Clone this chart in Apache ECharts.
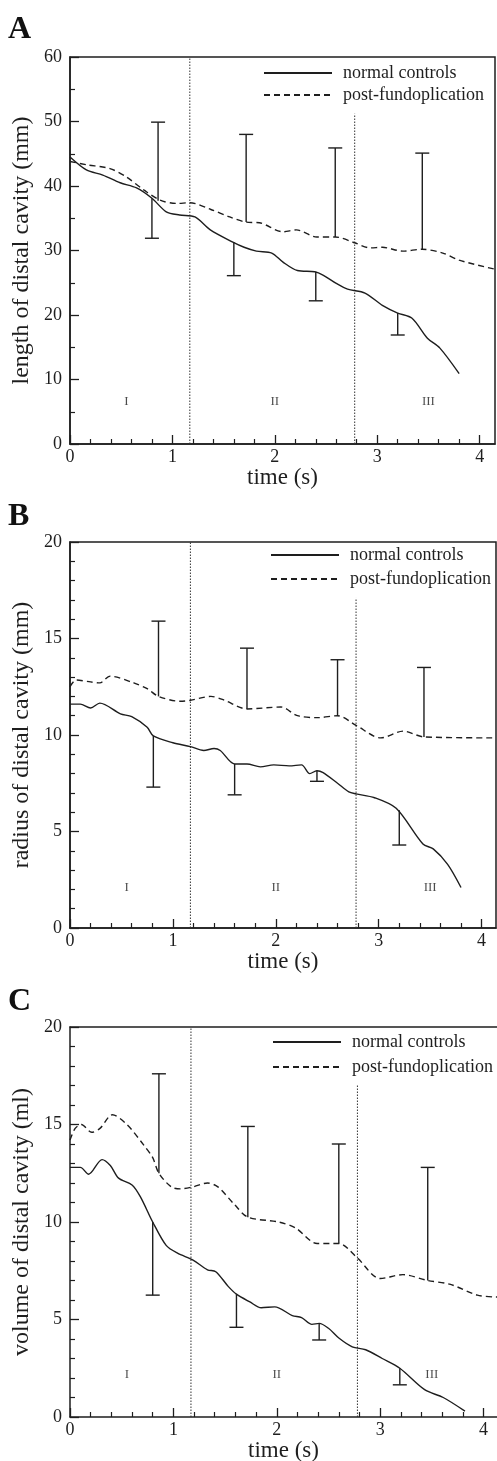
<!DOCTYPE html>
<html><head><meta charset="utf-8">
<script src="https://cdn.jsdelivr.net/npm/echarts@6/dist/echarts.min.js"></script>
<style>html,body{margin:0;padding:0;background:#fff}#c{width:497px;height:1461px}</style>
</head><body><div id="c"></div>
<script>
// ---------- data ----------
const seriesNames = ['normal controls', 'post-fundoplication'];
const panelLetters = ['A', 'B', 'C'];
const yAxisTitles = ['length of distal cavity (mm)', 'radius of distal cavity (mm)', 'volume of distal cavity (ml)'];
const xAxisTitle = 'time (s)';
const xMajorTicks = [0, 1, 2, 3, 4];
const xMinorTicks = [0.2, 0.4, 0.6, 0.8, 1.2, 1.4, 1.6, 1.8, 2.2, 2.4, 2.6, 2.8, 3.2, 3.4, 3.6, 3.8];
const xMax = [4.15, 4.14, 4.13];
const yMax = [60, 20, 20];
const yInterval = [10, 5, 5];
const yMinorSplit = [2, 5, 5];
const dividerTimes = [1.17, 2.78];
const dividerTops = [[60, 51.2], [20, 17.1], [20, 17.0]];
const phaseNames = ['I', 'II', 'III'];
const phaseTimes = [0.55, 2.0, 3.5];
const phaseLevels = [6.5, 2.1, 2.15];

// Panel A: length (mm)
const lengthNormal = [[0,44.5],[0.16,42.5],[0.32,41.7],[0.49,40.5],[0.65,39.7],[0.8,38.1],[0.94,36.0],[1.07,35.5],[1.22,35.2],[1.37,33.2],[1.59,31.3],[1.7,30.5],[1.82,29.9],[1.97,29.6],[2.08,28.2],[2.22,26.9],[2.39,26.7],[2.47,26.2],[2.6,24.9],[2.71,24.0],[2.88,23.4],[3.05,21.5],[3.2,20.3],[3.34,19.5],[3.49,16.4],[3.61,14.9],[3.8,10.9]];
const lengthPost = [[0,43.8],[0.16,43.3],[0.39,42.7],[0.55,41.4],[0.72,39.4],[0.88,37.8],[1.04,37.3],[1.17,37.4],[1.37,36.4],[1.56,35.2],[1.72,34.4],[1.85,34.3],[2.08,32.9],[2.21,33.2],[2.41,32.1],[2.59,32.1],[2.78,31.2],[2.93,30.4],[3.05,30.5],[3.25,29.9],[3.44,30.2],[3.64,29.6],[3.8,28.5],[4.15,27.1]];
// error bars: [time, cap value, curve value]
const lengthNormalErr = [[0.8,31.9,38.1],[1.6,26.1,31.3],[2.4,22.2,26.7],[3.2,16.9,20.3]];
const lengthPostErr = [[0.86,49.9,37.7],[1.72,48.0,34.4],[2.59,45.9,32.1],[3.44,45.1,30.2]];

// Panel B: radius (mm)
const radiusNormal = [[0,11.6],[0.1,11.6],[0.2,11.4],[0.29,11.65],[0.49,11.1],[0.6,10.95],[0.75,10.4],[0.81,9.95],[1.0,9.6],[1.17,9.4],[1.3,9.2],[1.4,9.3],[1.46,9.2],[1.6,8.5],[1.72,8.5],[1.85,8.35],[1.98,8.45],[2.13,8.4],[2.25,8.45],[2.33,8.0],[2.4,8.15],[2.46,8.05],[2.6,7.5],[2.71,7.05],[2.78,6.95],[2.96,6.75],[3.17,6.2],[3.43,4.35],[3.53,4.1],[3.67,3.3],[3.8,2.1]];
const radiusPost = [[0,12.5],[0.06,12.85],[0.2,12.75],[0.29,12.7],[0.39,13.05],[0.62,12.7],[0.75,12.4],[0.86,12.0],[1.07,11.75],[1.17,11.8],[1.37,12.0],[1.5,11.8],[1.72,11.35],[2.05,11.45],[2.21,11.0],[2.41,10.9],[2.6,11.0],[2.78,10.5],[3.02,9.85],[3.24,10.2],[3.44,9.9],[4.14,9.85]];
const radiusNormalErr = [[0.81,7.3,9.95],[1.6,6.9,8.5],[2.4,7.6,8.15],[3.2,4.3,6.1]];
const radiusPostErr = [[0.86,15.9,12.0],[1.72,14.5,11.35],[2.6,13.9,11.0],[3.44,13.5,9.9]];

// Panel C: volume (ml)
const volumeNormal = [[0,12.8],[0.1,12.8],[0.18,12.45],[0.31,13.2],[0.39,12.9],[0.47,12.25],[0.6,11.9],[0.68,11.3],[0.8,10.0],[0.93,8.8],[1.04,8.4],[1.19,8.05],[1.33,7.55],[1.41,7.45],[1.53,6.7],[1.61,6.3],[1.74,5.9],[1.85,5.6],[1.98,5.65],[2.15,5.2],[2.24,5.1],[2.34,4.75],[2.41,4.8],[2.5,4.55],[2.6,4.05],[2.73,3.6],[2.86,3.45],[3.02,3.0],[3.19,2.5],[3.43,1.4],[3.61,1.0],[3.82,0.3]];
const volumePost = [[0,14.2],[0.05,14.8],[0.11,15.0],[0.21,14.6],[0.29,14.8],[0.41,15.5],[0.55,15.0],[0.72,13.9],[0.8,13.3],[0.86,12.5],[0.98,11.8],[1.07,11.7],[1.19,11.8],[1.33,12.0],[1.43,11.8],[1.59,10.9],[1.72,10.25],[2.02,10.0],[2.18,9.7],[2.39,8.9],[2.6,8.9],[2.78,8.15],[3.0,7.1],[3.22,7.3],[3.46,7.0],[3.68,6.8],[3.94,6.25],[4.13,6.15]];
const volumeNormalErr = [[0.8,6.25,10.0],[1.61,4.6,6.3],[2.41,3.95,4.8],[3.19,1.65,2.5]];
const volumePostErr = [[0.86,17.6,12.5],[1.72,14.9,10.25],[2.6,14.0,8.9],[3.46,12.8,7.0]];

const normalData = [lengthNormal, radiusNormal, volumeNormal];
const postData = [lengthPost, radiusPost, volumePost];
const normalErr = [lengthNormalErr, radiusNormalErr, volumeNormalErr];
const postErr = [lengthPostErr, radiusPostErr, volumePostErr];

// ---------- layout / style ----------
const FONT = "'Liberation Serif','DejaVu Serif',serif";
const INK = '#1e1e1e';
const gridsLayout = [
  {top: 57, height: 387, right: 2, border: true},
  {top: 542, height: 386, right: 1, border: true},
  {top: 1027, height: 390, right: 0, border: false}
];
const legendLayout = [
  {left: 258, top: 59, gap: 4},
  {left: 265, top: 541, gap: 6},
  {left: 267, top: 1028, gap: 7}
];
const letterY = [31, 518, 1003];

const chart = echarts.init(document.getElementById('c'), null, {renderer: 'canvas'});

const grid = [], xAxis = [], yAxis = [], series = [], legend = [], graphic = [];

function errRender(params, api) {
  const t = api.value(0), cap = api.value(1), end = api.value(2);
  const p1 = api.coord([t, cap]), p2 = api.coord([t, end]);
  const hw = 7;
  const st = {stroke: INK, lineWidth: 1.4};
  return {type: 'group', children: [
    {type: 'line', shape: {x1: p1[0], y1: p1[1], x2: p2[0], y2: p2[1]}, style: st},
    {type: 'line', shape: {x1: p1[0] - hw, y1: p1[1], x2: p1[0] + hw, y2: p1[1]}, style: st}
  ]};
}

gridsLayout.forEach((g, p) => {
  grid.push({left: 70, right: g.right, top: g.top, height: g.height, show: g.border,
    borderColor: INK, borderWidth: 1.5, backgroundColor: 'transparent', outerBoundsMode: 'none'});
  const mainX = xAxis.length;
  xAxis.push({
    type: 'value', gridIndex: p, position: 'bottom', min: 0, max: xMax[p],
    axisLine: {show: true, onZero: false, lineStyle: {color: INK, width: 1.5}},
    axisTick: {show: true, inside: true, length: 9, customValues: xMajorTicks, lineStyle: {color: INK, width: 1.3}},
    axisLabel: {show: true, customValues: xMajorTicks, margin: 4, fontSize: 18, fontFamily: FONT, color: INK},
    splitLine: {show: false},
    name: xAxisTitle, nameLocation: 'middle', nameGap: 22, nameMoveOverlap: false,
    nameTextStyle: {fontSize: 23, fontFamily: FONT, color: INK}
  });
  xAxis.push({
    type: 'value', gridIndex: p, position: 'bottom', min: 0, max: xMax[p],
    axisLine: {show: false},
    axisTick: {show: true, inside: true, length: 5, customValues: xMinorTicks, lineStyle: {color: INK, width: 1.2}},
    axisLabel: {show: false}, splitLine: {show: false}
  });
  if (!g.border) {
    xAxis.push({
      type: 'value', gridIndex: p, position: 'top', min: 0, max: xMax[p],
      axisLine: {show: true, onZero: false, lineStyle: {color: INK, width: 1.5}},
      axisTick: {show: false}, axisLabel: {show: false}, splitLine: {show: false}
    });
  }
  yAxis.push({
    type: 'value', gridIndex: p, min: 0, max: yMax[p], interval: yInterval[p],
    axisLine: {show: true, onZero: false, lineStyle: {color: INK, width: 1.5}},
    axisTick: {show: true, inside: true, length: 9, lineStyle: {color: INK, width: 1.3}},
    minorTick: {show: true, splitNumber: yMinorSplit[p], length: 5, lineStyle: {color: INK, width: 1.2}},
    axisLabel: {margin: 8, fontSize: 18, fontFamily: FONT, color: INK},
    splitLine: {show: false}, minorSplitLine: {show: false},
    name: yAxisTitles[p], nameLocation: 'middle', nameGap: 36, nameMoveOverlap: false,
    nameTextStyle: {fontSize: 24, fontFamily: FONT, color: INK}
  });

  series.push({
    type: 'line', name: seriesNames[0], xAxisIndex: mainX, yAxisIndex: p, data: normalData[p],
    symbol: 'none', smooth: 0.3, lineStyle: {color: INK, width: 1.4, type: 'solid'}, itemStyle: {color: INK},
    z: 5, silent: true
  });
  series.push({
    type: 'line', name: seriesNames[1], xAxisIndex: mainX, yAxisIndex: p, data: postData[p],
    symbol: 'none', smooth: 0.3, lineStyle: {color: INK, width: 1.4, type: [6, 4]}, itemStyle: {color: INK},
    z: 5, silent: true
  });
  series.push({
    type: 'custom', xAxisIndex: mainX, yAxisIndex: p, data: normalErr[p], renderItem: errRender,
    encode: {x: 0, y: [1, 2]}, z: 6, silent: true
  });
  series.push({
    type: 'custom', xAxisIndex: mainX, yAxisIndex: p, data: postErr[p], renderItem: errRender,
    encode: {x: 0, y: [1, 2]}, z: 6, silent: true
  });
  dividerTimes.forEach((t, k) => {
    series.push({
      type: 'line', xAxisIndex: mainX, yAxisIndex: p, data: [[t, 0], [t, dividerTops[p][k]]],
      symbol: 'none', lineStyle: {color: '#333', width: 1, type: [1.5, 1.5]}, z: 3, silent: true
    });
  });
  series.push({
    type: 'scatter', xAxisIndex: mainX, yAxisIndex: p,
    data: phaseNames.map((n, k) => [phaseTimes[k], phaseLevels[p], n]),
    symbolSize: 1, itemStyle: {color: 'rgba(0,0,0,0)'}, silent: true,
    label: {show: true, position: 'inside', formatter: (d) => d.value[2], fontSize: 13, fontFamily: FONT, color: INK}
  });

  const L = legendLayout[p];
  legend.push({
    data: seriesNames, orient: 'vertical', left: L.left, top: L.top,
    itemWidth: 68, itemHeight: 14, itemGap: L.gap, selectedMode: false,
    itemStyle: {opacity: 0},
    textStyle: {fontSize: 18, fontFamily: FONT, color: INK, padding: [0, 0, 0, 6]}
  });
  graphic.push({
    type: 'text', left: 8, top: letterY[p] - 17,
    style: {text: panelLetters[p], fontSize: 32, fontWeight: 'bold', fontFamily: FONT, fill: '#111'}
  });
});

chart.setOption({
  animation: false,
  backgroundColor: '#fff',
  grid, xAxis, yAxis, series, legend, graphic
});
</script>
</body></html>
